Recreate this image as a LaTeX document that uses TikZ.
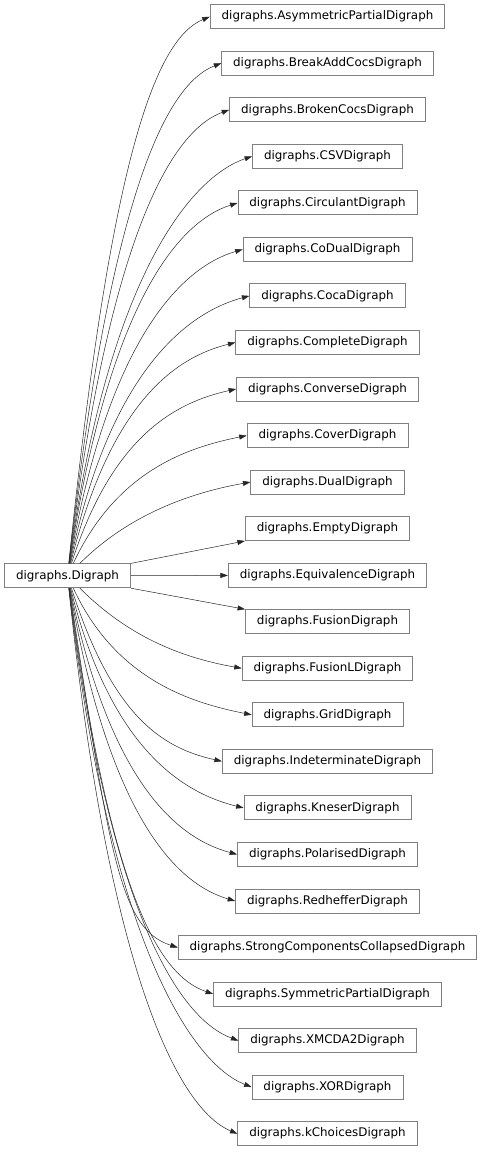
\documentclass[tikz,border=0pt]{standalone}
\usepackage{fontspec}
\setmainfont{DejaVu Sans}
\usetikzlibrary{arrows.meta}

\begin{document}
\begin{tikzpicture}[x=1pt,y=1pt,font=\fontsize{11.9}{14}\selectfont,cls/.style={draw=black!50,line width=0.8pt,inner xsep=11.5pt,inner ysep=0pt,minimum height=24pt},inh/.style={-{Triangle[length=7.5pt,width=5pt]},line width=0.5pt,black!85}]
\useasboundingbox (0,0) rectangle (485,1152);
\node[cls] (dg) at (67.5,576.2) {digraphs.Digraph};
\node[cls] (asym) at (327.5,1135.3) {digraphs.AsymmetricPartialDigraph};
\node[cls] (bac) at (327.5,1088.8) {digraphs.BreakAddCocsDigraph};
\node[cls] (broken) at (327.5,1042.2) {digraphs.BrokenCocsDigraph};
\node[cls] (csv) at (327.5,995.7) {digraphs.CSVDigraph};
\node[cls] (circ) at (327.5,949.1) {digraphs.CirculantDigraph};
\node[cls] (codual) at (327.5,902.6) {digraphs.CoDualDigraph};
\node[cls] (coca) at (327.5,856.1) {digraphs.CocaDigraph};
\node[cls] (complete) at (327.5,809.5) {digraphs.CompleteDigraph};
\node[cls] (converse) at (327.5,763.0) {digraphs.ConverseDigraph};
\node[cls] (cover) at (327.5,716.4) {digraphs.CoverDigraph};
\node[cls] (dual) at (327.5,669.9) {digraphs.DualDigraph};
\node[cls] (empty) at (327.5,623.4) {digraphs.EmptyDigraph};
\node[cls] (equiv) at (327.5,576.8) {digraphs.EquivalenceDigraph};
\node[cls] (fusion) at (327.5,530.3) {digraphs.FusionDigraph};
\node[cls] (fusionl) at (327.5,483.7) {digraphs.FusionLDigraph};
\node[cls] (grid) at (327.5,437.2) {digraphs.GridDigraph};
\node[cls] (indet) at (327.5,390.7) {digraphs.IndeterminateDigraph};
\node[cls] (kneser) at (327.5,344.1) {digraphs.KneserDigraph};
\node[cls] (polar) at (327.5,297.6) {digraphs.PolarisedDigraph};
\node[cls] (redh) at (327.5,251.0) {digraphs.RedhefferDigraph};
\node[cls] (scc) at (327.5,204.5) {digraphs.StrongComponentsCollapsedDigraph};
\node[cls] (sympart) at (327.5,158.0) {digraphs.SymmetricPartialDigraph};
\node[cls] (xmcda) at (327.5,111.4) {digraphs.XMCDA2Digraph};
\node[cls] (xor) at (327.5,64.9) {digraphs.XORDigraph};
\node[cls] (kchoices) at (327.5,18.3) {digraphs.kChoicesDigraph};
% upper fan
\draw[inh] (dg) to[out=84.1,in=202.6,out distance=394pt,in distance=62pt] (asym.west);
\draw[inh] (dg) to[out=83.6,in=201.3,out distance=361pt,in distance=62pt] (bac.west);
\draw[inh] (dg) to[out=83.0,in=200.1,out distance=329pt,in distance=62pt] (broken.west);
\draw[inh] (dg) to[out=82.3,in=198.8,out distance=296pt,in distance=62pt] (csv.west);
\draw[inh] (dg) to[out=81.4,in=197.6,out distance=264pt,in distance=62pt] (circ.west);
\draw[inh] (dg) to[out=80.2,in=196.3,out distance=231pt,in distance=62pt] (codual.west);
\draw[inh] (dg) to[out=78.5,in=195.0,out distance=199pt,in distance=62pt] (coca.west);
\draw[inh] (dg) to[out=76.1,in=193.8,out distance=166pt,in distance=62pt] (complete.west);
\draw[inh] (dg) to[out=72.3,in=192.5,out distance=134pt,in distance=62pt] (converse.west);
\draw[inh] (dg) to[out=65.0,in=191.3,out distance=101pt,in distance=62pt] (cover.west);
\draw[inh] (dg) to[out=45.0,in=190.0,out distance=68pt,in distance=62pt] (dual.west);
% near the middle
\draw[inh] (dg.north east) -- (empty.south west);
\draw[inh] (dg) -- (equiv);
\draw[inh] (dg.south east) -- (fusion.north west);
% lower fan
\draw[inh] (dg) to[out=-45.0,in=170.0,out distance=68pt,in distance=62pt] (fusionl.west);
\draw[inh] (dg) to[out=-65.0,in=168.7,out distance=101pt,in distance=62pt] (grid.west);
\draw[inh] (dg) to[out=-72.3,in=167.5,out distance=134pt,in distance=62pt] (indet.west);
\draw[inh] (dg) to[out=-76.1,in=166.2,out distance=166pt,in distance=62pt] (kneser.west);
\draw[inh] (dg) to[out=-78.5,in=165.0,out distance=199pt,in distance=62pt] (polar.west);
\draw[inh] (dg) to[out=-80.2,in=163.7,out distance=231pt,in distance=62pt] (redh.west);
\draw[inh] (dg) to[out=-81.4,in=162.4,out distance=264pt,in distance=62pt] (scc.west);
\draw[inh] (dg) to[out=-82.3,in=161.2,out distance=296pt,in distance=62pt] (sympart.west);
\draw[inh] (dg) to[out=-83.0,in=159.9,out distance=329pt,in distance=62pt] (xmcda.west);
\draw[inh] (dg) to[out=-83.6,in=158.7,out distance=361pt,in distance=62pt] (xor.west);
\draw[inh] (dg) to[out=-84.1,in=157.4,out distance=394pt,in distance=62pt] (kchoices.west);
\end{tikzpicture}
\end{document}
